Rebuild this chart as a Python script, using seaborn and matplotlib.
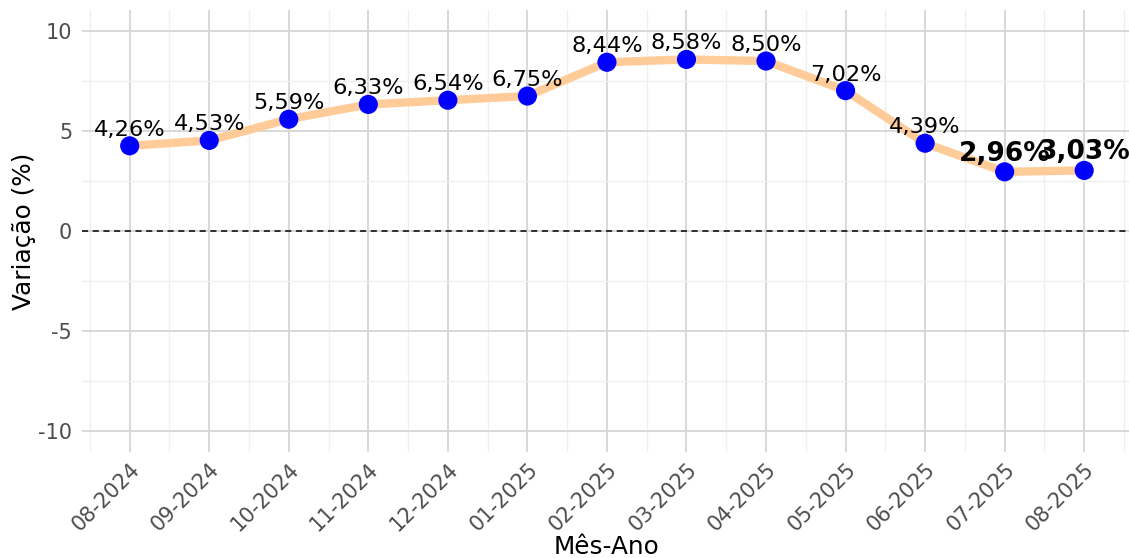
import pandas as pd
from matplotlib import pyplot as plt
from matplotlib.ticker import MultipleLocator
import numpy as np
import seaborn as sns

# dados
meses = ['08-2024', '09-2024', '10-2024', '11-2024', '12-2024', '01-2025', '02-2025',
         '03-2025', '04-2025', '05-2025', '06-2025', '07-2025', '08-2025']
variacao = [4.26, 4.53, 5.59, 6.33, 6.54, 6.75, 8.44, 8.58, 8.50, 7.02, 4.39, 2.96, 3.03]
destaque = [False] * 11 + [True, True]  # ultimos dois em negrito

df = pd.DataFrame({'mes': meses, 'var': variacao})
df['pos'] = np.arange(len(df))

sns.set_theme(style='whitegrid')
plt.rcParams['font.family'] = ['DejaVu Sans']

fig = plt.figure(figsize=(11.29, 5.58), dpi=100)
ax = fig.add_axes([0.0726, 0.19, 0.930, 0.792])

sns.lineplot(data=df, x='pos', y='var', color='#ffcc99', linewidth=6, ax=ax, zorder=2)
sns.scatterplot(data=df, x='pos', y='var', color='#0000ff', s=190, edgecolor='none', ax=ax, zorder=3)
ax.axhline(0, color='black', linestyle='--', linewidth=1.1, dashes=(4, 3), zorder=1)

for p, v, b in zip(df['pos'], df['var'], destaque):
    txt = f'{v:.2f}%'.replace('.', ',')
    if b:
        ax.text(p, v + 0.55, txt, ha='center', va='baseline', fontsize=19, fontweight='bold', color='black')
    else:
        ax.text(p, v + 0.5, txt, ha='center', va='baseline', fontsize=16.2, color='black')

ax.set_xlim(-0.6, 12.6)
ax.set_ylim(-11.05, 11.05)
ax.set_xticks(df['pos'])
ax.set_xticklabels(df['mes'], rotation=45, ha='right', rotation_mode='anchor')
ax.set_yticks([-10, -5, 0, 5, 10])
ax.set_yticklabels(['-10', '-5', '0', '5', '10'])
ax.yaxis.set_minor_locator(MultipleLocator(2.5))
ax.set_xticks(np.arange(-0.5, 13, 1.0), minor=True)
ax.grid(which='major', color='#d6d6d6', linewidth=1.3)
ax.grid(which='minor', color='#efefef', linewidth=0.9)
ax.tick_params(axis='both', which='both', length=0, labelsize=15, labelcolor='#4d4d4d')
ax.tick_params(axis='x', pad=5)
ax.tick_params(axis='y', pad=7)
for s in ax.spines.values():
    s.set_visible(False)
ax.set_facecolor('white')

ax.set_xlabel('Mês-Ano', fontsize=17.8, color='black', labelpad=0)
ax.set_ylabel('Variação (%)', fontsize=17.8, color='black', labelpad=1.5)

plt.savefig('out.png', dpi=100)
